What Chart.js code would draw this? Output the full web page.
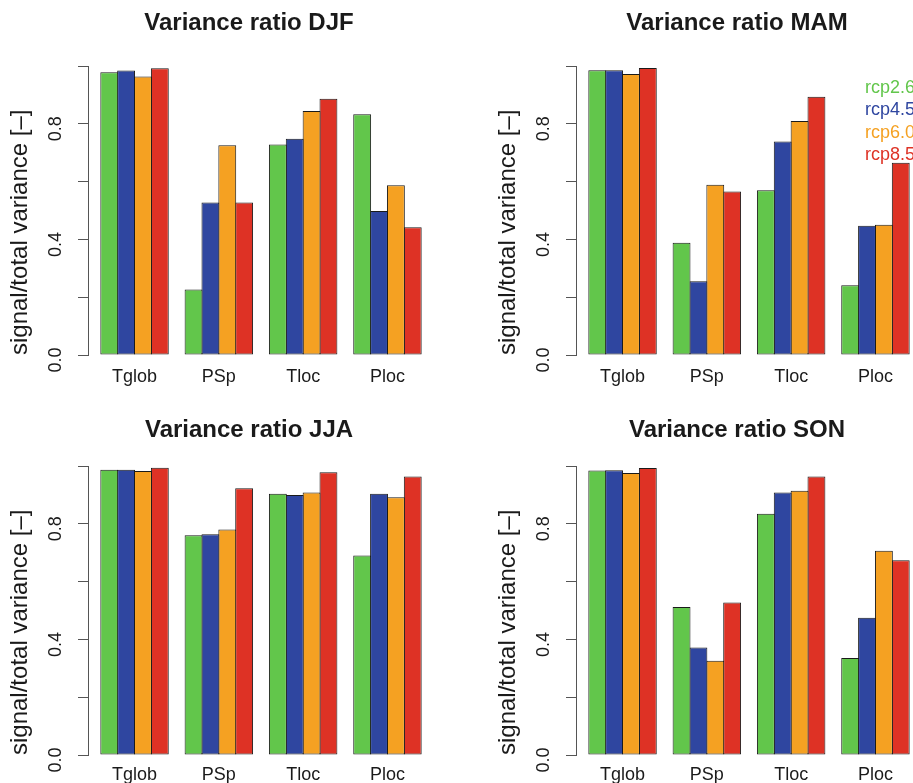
<!DOCTYPE html>
<html>
<head>
<meta charset="utf-8">
<title>Variance ratio</title>
<script src="https://cdn.jsdelivr.net/npm/chart.js@4.4.1/dist/chart.umd.min.js"></script>
<style>
  html, body { margin: 0; padding: 0; background: #fff; overflow: hidden; }
  .panel { position: absolute; }
</style>
</head>
<body>
<div class="panel" style="left:0;top:0"><canvas id="djf" width="498" height="400"></canvas></div>
<div class="panel" style="left:488px;top:0"><canvas id="mam" width="498" height="400"></canvas></div>
<div class="panel" style="left:0;top:400px"><canvas id="jja" width="498" height="400"></canvas></div>
<div class="panel" style="left:488px;top:400px"><canvas id="son" width="498" height="400"></canvas></div>
<script>
const categories = ['Tglob', 'PSp', 'Tloc', 'Ploc'];
const scenarios = ['rcp2.6', 'rcp4.5', 'rcp6.0', 'rcp8.5'];
const colors = ['#62c64b', '#2f46a0', '#f5a122', '#de3225'];
const yTicks = [0, 0.2, 0.4, 0.6, 0.8, 1.0];
// trailing spaces push the rotated labels a little below their tick, like the original
const yLabels = ['0.0  ', '', '0.4  ', '', '0.8  ', ''];

// one row per scenario, one value per category
const djf = [
  [0.978, 0.227, 0.728, 0.833],
  [0.984, 0.528, 0.748, 0.498],
  [0.964, 0.726, 0.844, 0.587],
  [0.992, 0.528, 0.887, 0.442],
];
const mam = [
  [0.985, 0.388, 0.570, 0.241],
  [0.985, 0.255, 0.739, 0.447],
  [0.972, 0.589, 0.810, 0.451],
  [0.993, 0.566, 0.894, 0.665],
];
const jja = [
  [0.987, 0.760, 0.904, 0.690],
  [0.987, 0.764, 0.900, 0.904],
  [0.983, 0.780, 0.908, 0.892],
  [0.994, 0.923, 0.978, 0.964],
];
const son = [
  [0.984, 0.512, 0.835, 0.336],
  [0.985, 0.372, 0.908, 0.475],
  [0.976, 0.326, 0.914, 0.707],
  [0.993, 0.528, 0.964, 0.674],
];

Chart.defaults.font.family = '"Liberation Sans", Arial, Helvetica, sans-serif';
Chart.defaults.color = '#222';

// scenario names in their colours, top right inside the plot (MAM panel only)
const scenarioLegend = {
  id: 'scenarioLegend',
  afterDraw(chart) {
    const { ctx, chartArea } = chart;
    ctx.save();
    ctx.font = '18px "Liberation Sans", Arial, sans-serif';
    ctx.textBaseline = 'middle';
    ctx.textAlign = 'left';
    chart.data.datasets.forEach((ds, i) => {
      ctx.fillStyle = ds.backgroundColor;
      ctx.fillText(ds.label, chartArea.right - 57, chartArea.top + 22.3 + i * 22.2);
    });
    ctx.restore();
  },
};

function drawSeason(id, season, values, titleTop, xPad, withLegend) {
  new Chart(document.getElementById(id), {
    type: 'bar',
    data: {
      datasets: scenarios.map((name, s) => ({
        label: name,
        data: values[s].map((v, i) => ({ x: i, y: v })),
        backgroundColor: colors[s],
        borderColor: '#1a1a1a',
        borderWidth: 1,
        borderSkipped: false,
        inflateAmount: 0,
        barPercentage: 1.06,
        categoryPercentage: 0.8,
      })),
    },
    options: {
      responsive: false,
      animation: false,
      layout: { padding: 0 },
      plugins: {
        legend: { display: false },
        tooltip: { enabled: false },
        title: {
          display: true,
          text: 'Variance ratio ' + season,
          color: '#1a1a1a',
          font: { size: 24, weight: 'bold' },
          padding: { top: titleTop, bottom: 66 - 28.8 - titleTop },
        },
      },
      scales: {
        x: {
          type: 'linear',
          min: -0.552,
          max: 3.552,
          offset: false,
          grid: { display: false, drawTicks: false },
          border: { display: false },
          afterBuildTicks: (s) => { s.ticks = categories.map((c, i) => ({ value: i })); },
          ticks: {
            callback: (v) => categories[v],
            autoSkip: false,
            maxRotation: 0,
            padding: xPad,
            color: '#1a1a1a',
            font: { size: 18 },
          },
          afterFit: (s) => { s.height = 45; },
        },
        y: {
          min: 0,
          max: 1,
          afterBuildTicks: (s) => { s.ticks = yTicks.map((v) => ({ value: v })); },
          ticks: {
            callback: (v, i) => yLabels[i],
            autoSkip: false,
            minRotation: 90,
            maxRotation: 90,
            crossAlign: 'center',
            padding: 4.5,
            color: '#1a1a1a',
            font: { size: 18 },
          },
          grid: { drawOnChartArea: false, drawTicks: true, tickLength: 10, color: '#555' },
          border: { color: '#555' },
          title: {
            display: true,
            text: 'signal/total variance [–]',
            align: 'start',
            color: '#1a1a1a',
            font: { size: 24 },
            padding: { top: 5.6, bottom: 0 },
          },
          afterFit: (s) => { s.width = 88; },
        },
        // empty right-hand axis: keeps the plot narrower than the title row
        y2: {
          position: 'right',
          display: true,
          grid: { display: false, drawTicks: false },
          border: { display: false },
          ticks: { display: false },
          afterFit: (s) => { s.width = 64; },
        },
      },
    },
    plugins: withLegend ? [scenarioLegend] : [],
  });
}

drawSeason('djf', 'DJF', djf, 9, 11, false);
drawSeason('mam', 'MAM', mam, 9, 11, true);
drawSeason('jja', 'JJA', jja, 16, 9, false);
drawSeason('son', 'SON', son, 16, 9, false);
</script>
</body>
</html>
